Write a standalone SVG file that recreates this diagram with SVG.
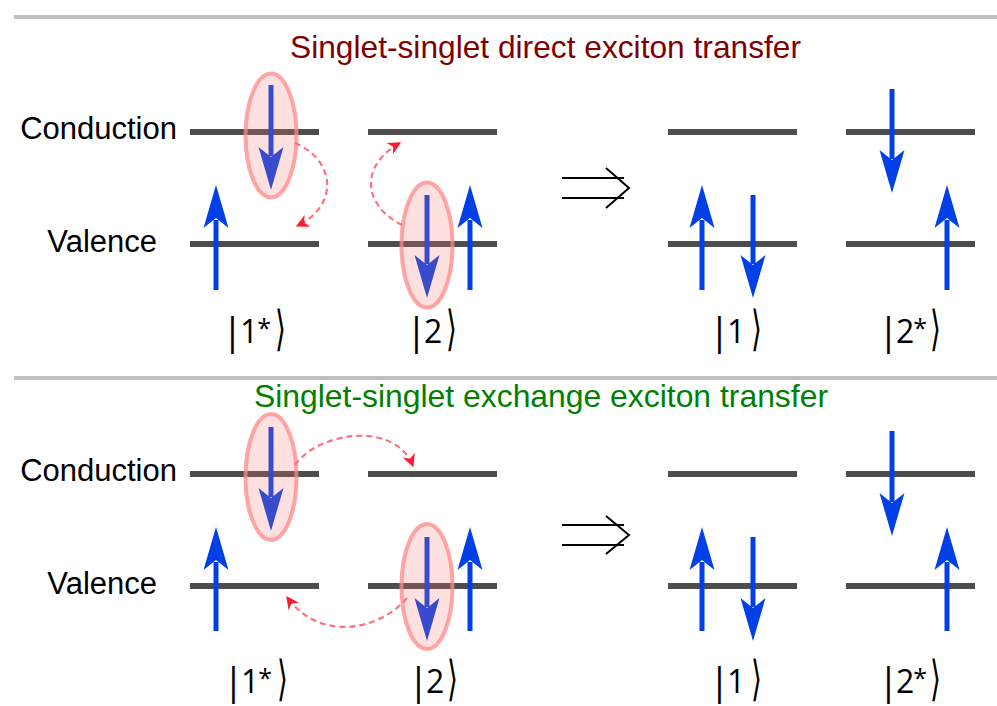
<svg xmlns="http://www.w3.org/2000/svg" xmlns:xlink="http://www.w3.org/1999/xlink" width="997" height="706" viewBox="0 0 997 706">
<style>
.sep{stroke:#c0c0c0;stroke-width:4;}
.lvl{stroke:#4d4d4d;stroke-width:6;}
.shaft{stroke:#0040e6;stroke-width:5;}
.head{fill:#0040e6;}
.exc{fill:#ff7070;fill-opacity:0.22;stroke:#ff8a8a;stroke-opacity:0.75;stroke-width:4;}
.lbl{font-family:"Liberation Sans",Arial,sans-serif;font-size:31px;fill:#000;}
.title{font-family:"Liberation Sans",Arial,sans-serif;font-size:32px;}
.ket{font-family:"Open Sans","Noto Sans",sans-serif;font-size:32px;letter-spacing:-3px;fill:#000;}
.bar{font-size:38px;}
.ast{font-size:25px;}
.br{font-family:"DejaVu Sans",sans-serif;font-weight:200;font-size:40px;text-anchor:middle;fill:#000;}
.conn{fill:none;stroke:#ff7080;stroke-width:2.2;stroke-dasharray:6 4;}
.impl{fill:none;stroke:#000;stroke-width:2;}
</style>
<defs>
<path id="hu" d="M0,0 L12.5,43 L0,33 L-12.5,43 Z"/>
<path id="hd" d="M0,0 L12.5,-43 L0,-33 L-12.5,-43 Z"/>
<marker id="rh" viewBox="0 0 10 10" refX="9" refY="5" markerWidth="16" markerHeight="13" markerUnits="userSpaceOnUse" orient="auto">
<path d="M0,0 L10,5 L0,10 L3,5 Z" fill="#ff1a2e"/>
</marker>
</defs>

<line class="sep" x1="14" y1="17" x2="997" y2="17"/>
<line class="sep" x1="14" y1="378" x2="997" y2="378"/>

<text class="title" x="290" y="58" fill="#800000" textLength="511" lengthAdjust="spacingAndGlyphs">Singlet-singlet direct exciton transfer</text>
<text class="title" x="254" y="407" fill="#008000" textLength="574" lengthAdjust="spacingAndGlyphs">Singlet-singlet exchange exciton transfer</text>

<g id="labels-top">
<text class="lbl" x="177" y="139" text-anchor="end">Conduction</text>
<text class="lbl" x="157" y="252" text-anchor="end">Valence</text>
</g>
<g id="labels-bottom">
<text class="lbl" x="177" y="481" text-anchor="end">Conduction</text>
<text class="lbl" x="157" y="594" text-anchor="end">Valence</text>
</g>

<!-- TOP SECTION -->
<g id="top-state1star">
<line class="lvl" x1="190" y1="132" x2="319" y2="132"/>
<line class="lvl" x1="190" y1="244" x2="319" y2="244"/>
<line class="shaft" x1="216" y1="290" x2="216" y2="220"/>
<use href="#hu" class="head" x="216" y="185"/>
<line class="shaft" x1="271" y1="85" x2="271" y2="156"/>
<use href="#hd" class="head" x="271" y="190"/>
<ellipse class="exc" cx="271" cy="135.5" rx="25.5" ry="62"/>
<text class="ket" x="222" y="343"><tspan class="bar" dy="2">|</tspan><tspan dy="-2">1</tspan><tspan class="ast" dx="2" dy="-6">*</tspan></text>
<text class="br" transform="translate(280,345) scale(0.7,1.2)">⟩</text>
</g>

<g id="top-state2">
<line class="lvl" x1="368" y1="132" x2="497" y2="132"/>
<line class="lvl" x1="368" y1="244" x2="497" y2="244"/>
<line class="shaft" x1="470" y1="290" x2="470" y2="220"/>
<use href="#hu" class="head" x="470" y="185"/>
<line class="shaft" x1="427" y1="195" x2="427" y2="264"/>
<use href="#hd" class="head" x="427" y="298"/>
<ellipse class="exc" cx="427" cy="245" rx="25.5" ry="62.5"/>
<text class="ket" x="406" y="343"><tspan class="bar" dy="2">|</tspan><tspan dy="-2">2</tspan></text>
<text class="br" transform="translate(451,345) scale(0.7,1.2)">⟩</text>
</g>

<g id="top-implies">
<path class="impl" d="M562,178 H624 M562,198 H624 M606,168 L629,188 L606,208"/>
</g>

<g id="top-state1">
<line class="lvl" x1="668" y1="132" x2="797" y2="132"/>
<line class="lvl" x1="668" y1="244" x2="797" y2="244"/>
<line class="shaft" x1="702" y1="290" x2="702" y2="220"/>
<use href="#hu" class="head" x="702" y="185"/>
<line class="shaft" x1="753" y1="195" x2="753" y2="264"/>
<use href="#hd" class="head" x="753" y="298"/>
<text class="ket" x="709" y="343"><tspan class="bar" dy="2">|</tspan><tspan dy="-2">1</tspan></text>
<text class="br" transform="translate(756,345) scale(0.7,1.2)">⟩</text>
</g>

<g id="top-state2star">
<line class="lvl" x1="846" y1="132" x2="975" y2="132"/>
<line class="lvl" x1="846" y1="244" x2="975" y2="244"/>
<line class="shaft" x1="892" y1="89" x2="892" y2="159"/>
<use href="#hd" class="head" x="892" y="193"/>
<line class="shaft" x1="947" y1="290" x2="947" y2="220"/>
<use href="#hu" class="head" x="947" y="185"/>
<text class="ket" x="878" y="343"><tspan class="bar" dy="2">|</tspan><tspan dy="-2">2</tspan><tspan class="ast" dx="2" dy="-6">*</tspan></text>
<text class="br" transform="translate(935,345) scale(0.7,1.2)">⟩</text>
</g>

<!-- BOTTOM SECTION -->
<g id="bottom-state1star">
<line class="lvl" x1="190" y1="474" x2="319" y2="474"/>
<line class="lvl" x1="190" y1="586" x2="319" y2="586"/>
<line class="shaft" x1="216" y1="631" x2="216" y2="562"/>
<use href="#hu" class="head" x="216" y="527"/>
<line class="shaft" x1="271" y1="427" x2="271" y2="497"/>
<use href="#hd" class="head" x="271" y="531"/>
<ellipse class="exc" cx="271" cy="477" rx="25.5" ry="63"/>
<text class="ket" x="223" y="693"><tspan class="bar" dy="2">|</tspan><tspan dy="-2">1</tspan><tspan class="ast" dx="2" dy="-6">*</tspan></text>
<text class="br" transform="translate(282,695) scale(0.7,1.2)">⟩</text>
</g>

<g id="bottom-state2">
<line class="lvl" x1="368" y1="474" x2="497" y2="474"/>
<line class="lvl" x1="368" y1="586" x2="497" y2="586"/>
<line class="shaft" x1="470" y1="631" x2="470" y2="562"/>
<use href="#hu" class="head" x="470" y="527"/>
<line class="shaft" x1="427" y1="537" x2="427" y2="607"/>
<use href="#hd" class="head" x="427" y="641"/>
<ellipse class="exc" cx="427" cy="586.5" rx="25.5" ry="62.5"/>
<text class="ket" x="408" y="693"><tspan class="bar" dy="2">|</tspan><tspan dy="-2">2</tspan></text>
<text class="br" transform="translate(452,695) scale(0.7,1.2)">⟩</text>
</g>

<g id="bottom-implies">
<path class="impl" d="M562,525 H624 M562,545 H624 M606,516 L629,535 L606,554"/>
</g>

<g id="bottom-state1">
<line class="lvl" x1="668" y1="474" x2="797" y2="474"/>
<line class="lvl" x1="668" y1="586" x2="797" y2="586"/>
<line class="shaft" x1="702" y1="631" x2="702" y2="562"/>
<use href="#hu" class="head" x="702" y="527"/>
<line class="shaft" x1="753" y1="537" x2="753" y2="607"/>
<use href="#hd" class="head" x="753" y="641"/>
<text class="ket" x="709" y="693"><tspan class="bar" dy="2">|</tspan><tspan dy="-2">1</tspan></text>
<text class="br" transform="translate(756,695) scale(0.7,1.2)">⟩</text>
</g>

<g id="bottom-state2star">
<line class="lvl" x1="846" y1="474" x2="975" y2="474"/>
<line class="lvl" x1="846" y1="586" x2="975" y2="586"/>
<line class="shaft" x1="892" y1="431" x2="892" y2="502"/>
<use href="#hd" class="head" x="892" y="536"/>
<line class="shaft" x1="947" y1="631" x2="947" y2="562"/>
<use href="#hu" class="head" x="947" y="527"/>
<text class="ket" x="878" y="693"><tspan class="bar" dy="2">|</tspan><tspan dy="-2">2</tspan><tspan class="ast" dx="2" dy="-6">*</tspan></text>
<text class="br" transform="translate(935,695) scale(0.7,1.2)">⟩</text>
</g>

<g id="connectors">
<path class="conn" d="M295,143 C335,160 340,205 297,226" marker-end="url(#rh)"/>
<path class="conn" d="M402,225 C362,205 360,165 400,143" marker-end="url(#rh)"/>
<path class="conn" d="M295,465 C318,432 395,420 413,466" marker-end="url(#rh)"/>
<path class="conn" d="M407,598 C380,630 320,643 287,597" marker-end="url(#rh)"/>
</g>
</svg>
